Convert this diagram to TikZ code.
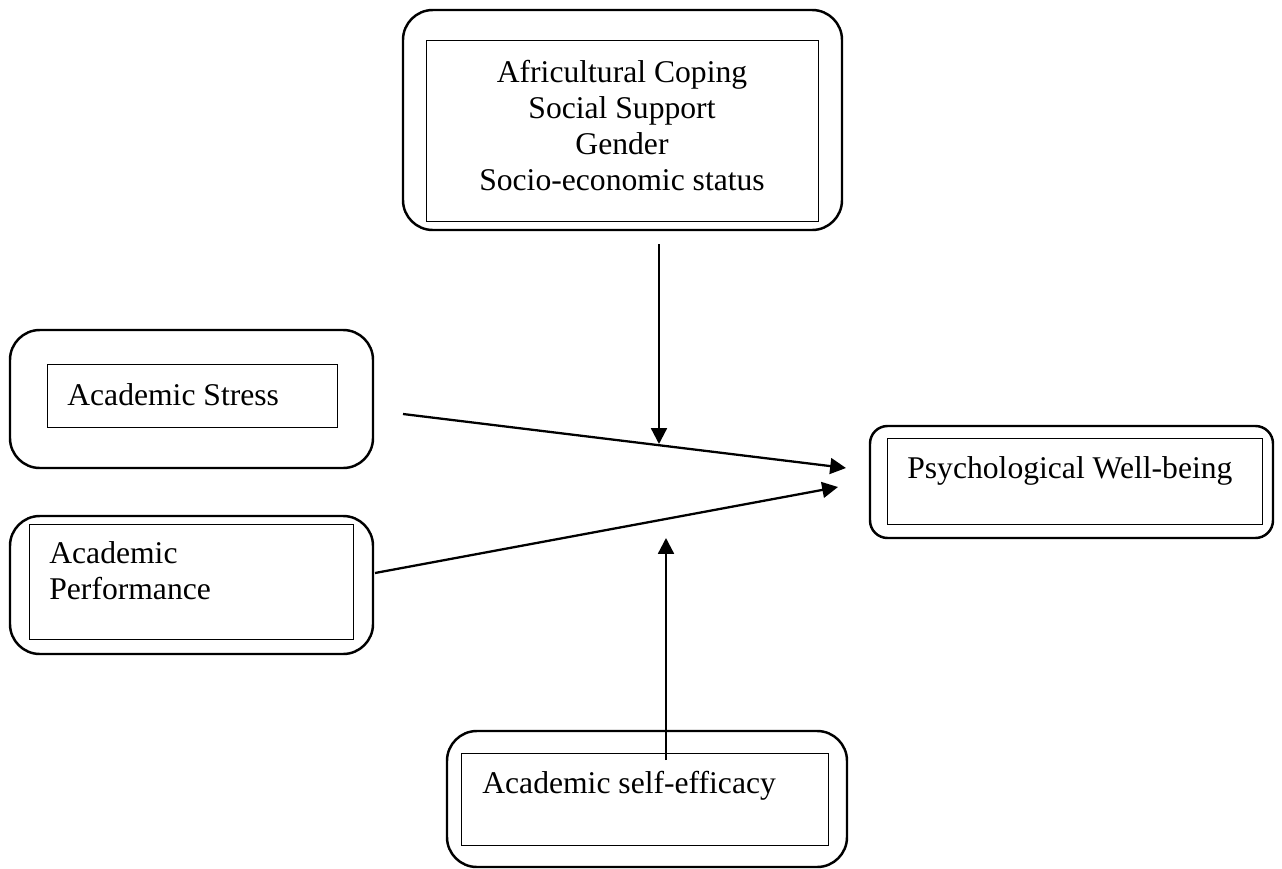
\documentclass[tikz,border=0pt]{standalone}
\usepackage{fontspec}
\setmainfont{Liberation Serif}
\usetikzlibrary{fit}
\usetikzlibrary{arrows.meta}

\begin{document}
\begin{tikzpicture}[x=0.02cm,y=-0.02cm,
  outerbox/.style={draw,line width=1.4pt,rounded corners=17pt,inner sep=0pt},
  innerbox/.style={draw,line width=0.5pt,inner sep=0pt},
  lbl/.style={inner sep=0pt,font=\fontsize{18}{20.5}\selectfont},
  link/.style={line width=1.3pt,-{Triangle[length=9pt,width=9pt]}}]
\useasboundingbox (0,0) rectangle (1282,869);
\node[outerbox,fit={(403,10) (842,230)}] (modout) {}; %moderators
\node[innerbox,fit={(426,40) (818,221)}] (mod) {};
\node[lbl,align=center,anchor=north] (modtext) at (622,60)
  {Africultural Coping\\Social Support\\Gender\\Socio-economic status};
\node[outerbox,fit={(10,330) (373,468)}] (stressout) {}; %academic stress
\node[innerbox,fit={(47,364) (337,427)}] (stress) {};
\node[lbl,anchor=base west] (stresstext) at (67,405) {Academic Stress};
\node[outerbox,fit={(10,516) (373,654)}] (perfout) {}; %academic performance
\node[innerbox,fit={(29,524) (353,639)}] (perf) {};
\node[lbl,align=left,anchor=north west] (perftext) at (49,541)
  {Academic\\Performance};
\node[outerbox,rounded corners=10pt,fit={(870,426) (1273,538)}] (pwbout) {}; %outcome
\node[innerbox,fit={(887,438) (1262,524)}] (pwb) {};
\node[lbl,anchor=base west] (pwbtext) at (907,478) {Psychological Well-being};
\node[outerbox,fit={(447,731) (847,867)}] (effout) {}; %self-efficacy
\node[innerbox,fit={(461,753) (828,845)}] (eff) {};
\node[lbl,anchor=base west] (efftext) at (482,793) {Academic self-efficacy};
\coordinate (modstart) at (659,244); %arrow ends
\coordinate (modtip) at (659,444);
\coordinate (stressstart) at (403,414);
\coordinate (stresstip) at (846,468);
\coordinate (perfstart) at (375,573);
\coordinate (perftip) at (838,487);
\coordinate (effstart) at (666,760);
\coordinate (efftip) at (666,538);
\draw[link] (modstart) -- (modtip);
\draw[link] (stressstart) -- (stresstip);
\draw[link] (perfstart) -- (perftip);
\draw[link] (effstart) -- (efftip);
\end{tikzpicture}
\end{document}
